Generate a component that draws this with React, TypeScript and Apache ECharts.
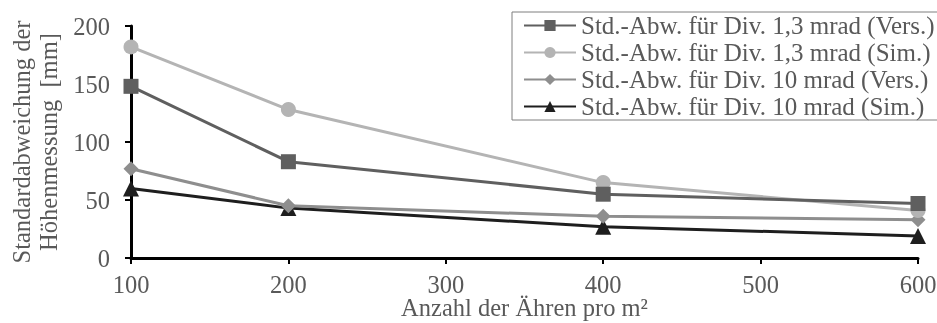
import React, { useEffect, useRef } from "react";
import * as echarts from "echarts";

const xValues = [100, 200, 400, 600];
const seriesNames = [
  "Std.-Abw. für Div. 1,3 mrad (Vers.)",
  "Std.-Abw. für Div. 1,3 mrad (Sim.)",
  "Std.-Abw. für Div. 10 mrad (Vers.)",
  "Std.-Abw. für Div. 10 mrad (Sim.)",
];
const vers13 = [148, 83, 55, 47];
const sim13 = [182, 128, 65, 41];
const vers10 = [77, 45, 36, 33];
const sim10 = [60, 43, 27, 19];
const seriesColors = ["#5f5f5f", "#b4b4b4", "#8e8e8e", "#1e1e1e"];
const seriesSymbols = ["rect", "circle", "diamond", "triangle"];
const seriesSizes = [15, 15, 15, 16];
const xTicks = [100, 200, 300, 400, 500, 600];
const yTicks = [0, 50, 100, 150, 200];

const FONT = "Liberation Serif";
const TEXT = "#595959";
const FS = 24.5;

export default function App() {
  const ref = useRef<HTMLDivElement>(null);
  useEffect(() => {
    if (!ref.current) return;
    const chart = echarts.init(ref.current, undefined, { renderer: "svg" });
    const data = [vers13, sim13, vers10, sim10];
    chart.setOption({
      animation: false,
      textStyle: { fontFamily: FONT },
      grid: {
        left: 131,
        right: 19,
        top: 26,
        bottom: 65,
        containLabel: false,
        outerBoundsMode: "none",
      },
      legend: {
        show: true,
        left: 512,
        top: 12,
        orient: "vertical",
        borderColor: "#7f7f7f",
        borderWidth: 1,
        backgroundColor: "#ffffff",
        padding: [0, 4, 0, 11],
        itemWidth: 52,
        itemHeight: 14,
        itemGap: 0,
        textStyle: { fontFamily: FONT, fontSize: 25, color: TEXT, lineHeight: 27 },
        data: seriesNames,
      },
      xAxis: {
        type: "value",
        min: 100,
        max: 600,
        interval: 100,
        name: "Anzahl der Ähren pro m²",
        nameLocation: "middle",
        nameGap: 38,
        nameMoveOverlap: false,
        nameTextStyle: { fontFamily: FONT, fontSize: FS, color: TEXT, lineHeight: 22 },
        axisLine: { show: true, onZero: false, lineStyle: { color: "#000", width: 3 } },
        axisTick: { show: true, length: 6, lineStyle: { color: "#000", width: 2 } },
        axisLabel: {
          fontFamily: FONT,
          fontSize: FS,
          color: TEXT,
          lineHeight: 22,
          margin: 15,
          formatter: (v: number) => (xTicks.includes(v) ? String(v) : ""),
        },
        splitLine: { show: false },
      },
      yAxis: {
        type: "value",
        min: 0,
        max: 200,
        interval: 50,
        name: "Standardabweichung der\nHöhenmessung\u00a0 [mm]",
        nameLocation: "middle",
        nameGap: 66,
        nameRotate: 90,
        nameTextStyle: { fontFamily: FONT, fontSize: FS, color: TEXT, lineHeight: 27 },
        axisLine: { show: true, lineStyle: { color: "#000", width: 3 } },
        axisTick: { show: true, length: 6, lineStyle: { color: "#000", width: 2 } },
        axisLabel: {
          fontFamily: FONT,
          fontSize: FS,
          color: TEXT,
          margin: 21,
          formatter: (v: number) => (yTicks.includes(v) ? String(v) : ""),
        },
        splitLine: { show: false },
      },
      series: data.map((vals, i) => ({
        name: seriesNames[i],
        type: "line",
        data: xValues.map((x, j) => [x, vals[j]]),
        symbol: seriesSymbols[i],
        symbolSize: seriesSizes[i],
        showSymbol: true,
        clip: false,
        lineStyle: { color: seriesColors[i], width: 3 },
        itemStyle: { color: seriesColors[i] },
        z: 10 - i,
      })),
    });
    return () => chart.dispose();
  }, []);
  return (
    <div
      ref={ref}
      style={{ position: "fixed", left: 0, top: 0, width: 937, height: 323 }}
    />
  );
}
